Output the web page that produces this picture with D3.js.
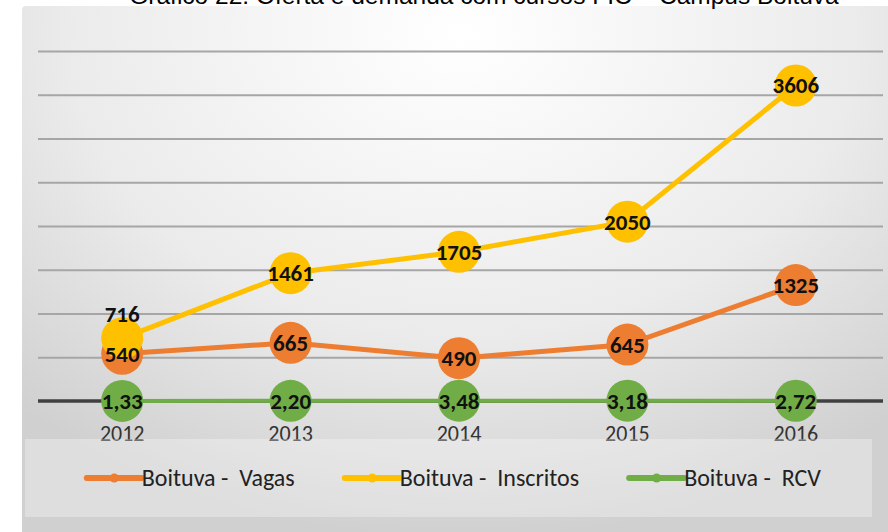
<!DOCTYPE html>
<meta charset="utf-8">
<style>
body { margin: 0; background: #fff; }
svg { display: block; }
.grid line { stroke: #a6a6a6; stroke-width: 2; }
.lbl { font-family: Carlito, Lato, sans-serif; font-weight: bold; font-size: 23px; fill: #111; }
.year { font-family: Carlito, Lato, sans-serif; font-size: 22px; fill: #333; }
.leg { font-family: Carlito, Lato, sans-serif; font-size: 24px; fill: #222; }
</style>
<svg width="888" height="532"></svg>
<script src="https://d3js.org/d3.v7.min.js"></script>
<script>
var years = ["2012", "2013", "2014", "2015", "2016"];
var vagas = [540, 665, 490, 645, 1325];
var inscritos = [716, 1461, 1705, 2050, 3606];
var rcv = [1.33, 2.20, 3.48, 3.18, 2.72];
var yTicks = [500, 1000, 1500, 2000, 2500, 3000, 3500, 4000];
var legendNames = ["Boituva -  Vagas", "Boituva -  Inscritos", "Boituva -  RCV"];
var title = "Gráfico 22: Oferta e demanda com cursos FIC – Câmpus Boituva";

var svg = d3.select("svg");

var series = [
  { name: legendNames[0], values: vagas, color: "#ed7d31" },
  { name: legendNames[1], values: inscritos, color: "#ffc000" },
  { name: legendNames[2], values: rcv, color: "#70ad47" }
];

var x = d3.scaleBand().domain(years).range([38, 880]);
var y = d3.scaleLinear().domain([0, 4000]).range([401, 51]);
var cx = function(i) { return x(years[i]) + x.bandwidth() / 2; };

// background
var defs = svg.append("defs");
var rg = defs.append("radialGradient").attr("id", "bg")
    .attr("cx", "50%").attr("cy", "5%").attr("r", "75%")
    .attr("gradientTransform", "translate(0.5,0.05) scale(1,1.25) translate(-0.5,-0.05)");
rg.append("stop").attr("offset", "0").attr("stop-color", "#ffffff");
rg.append("stop").attr("offset", "0.6").attr("stop-color", "#ebebeb");
rg.append("stop").attr("offset", "1").attr("stop-color", "#d0d0d0");

svg.append("rect")
    .attr("x", 22).attr("y", 6).attr("width", 880).attr("height", 540)
    .attr("rx", 4)
    .attr("fill", "url(#bg)");

svg.append("text")
    .attr("x", 484).attr("y", 4)
    .attr("text-anchor", "middle")
    .attr("font-family", "Liberation Sans, Arial, sans-serif")
    .attr("font-size", 24.5)
    .attr("fill", "#000")
    .text(title);

// gridlines
svg.append("g")
    .attr("class", "grid")
    .attr("transform", "translate(38,0)")
    .call(d3.axisLeft(y).tickValues(yTicks).tickSize(-845).tickFormat(""))
  .select(".domain").remove();

svg.append("line")
    .attr("x1", 38).attr("x2", 883)
    .attr("y1", y(0)).attr("y2", y(0))
    .attr("stroke", "#404040").attr("stroke-width", 3.5);

// years
svg.append("g").selectAll("text")
  .data(years)
  .enter().append("text")
    .attr("class", "year")
    .attr("x", function(d) { return x(d) + x.bandwidth() / 2; })
    .attr("y", 441)
    .attr("text-anchor", "middle")
    .text(function(d) { return d; });

var line = d3.line()
    .x(function(d, i) { return cx(i); })
    .y(function(d) { return y(d); });

var fmt = function(v) { return v < 10 ? d3.format(".2f")(v).replace(".", ",") : String(v); };

// draw back to front: RCV, Vagas, Inscritos
[2, 0, 1].forEach(function(k) {
  var s = series[k];
  var g = svg.append("g");
  g.append("path")
      .datum(s.values)
      .attr("fill", "none")
      .attr("stroke", s.color)
      .attr("stroke-width", k == 2 ? 4 : 5)
      .attr("d", line);
  g.selectAll("circle")
    .data(s.values)
    .enter().append("circle")
      .attr("cx", function(d, i) { return cx(i); })
      .attr("cy", function(d) { return y(d); })
      .attr("r", 21)
      .attr("fill", s.color);
});

// data labels on top of every marker
var labels = svg.append("g");
[2, 0, 1].forEach(function(k) {
  var s = series[k];
  labels.append("g").selectAll("text")
    .data(s.values)
    .enter().append("text")
      .attr("class", "lbl")
      .attr("x", function(d, i) { return cx(i); })
      .attr("y", function(d, i) {
        // first Inscritos label sits above its marker
        if (k == 1 && i == 0) return y(d) - 24 + 8;
        return y(d) + 8;
      })
      .attr("text-anchor", "middle")
      .text(fmt);
});

// legend
svg.append("rect")
    .attr("x", 25).attr("y", 439).attr("width", 847).attr("height", 78)
    .attr("fill", "#ffffff").attr("fill-opacity", 0.3);

var leg = svg.append("g");
var items = leg.selectAll("g")
  .data(series)
  .enter().append("g");
items.append("line")
    .attr("x1", 0).attr("x2", 55).attr("y1", 0).attr("y2", 0)
    .attr("stroke", function(d) { return d.color; })
    .attr("stroke-width", 6).attr("stroke-linecap", "round");
items.append("circle")
    .attr("cx", 27.5).attr("r", 4.5)
    .attr("fill", function(d) { return d.color; });
items.append("text")
    .attr("class", "leg")
    .attr("x", 55).attr("y", 8)
    .attr("xml:space", "preserve")
    .text(function(d) { return d.name; });

var widths = [];
items.each(function() { widths.push(this.getBBox().width); });
var gap = 50;
var total = d3.sum(widths) + gap * (widths.length - 1);
var pos = 454 - total / 2;
items.attr("transform", function(d, i) {
  var t = "translate(" + pos + ",478)";
  pos += widths[i] + gap;
  return t;
});
</script>
